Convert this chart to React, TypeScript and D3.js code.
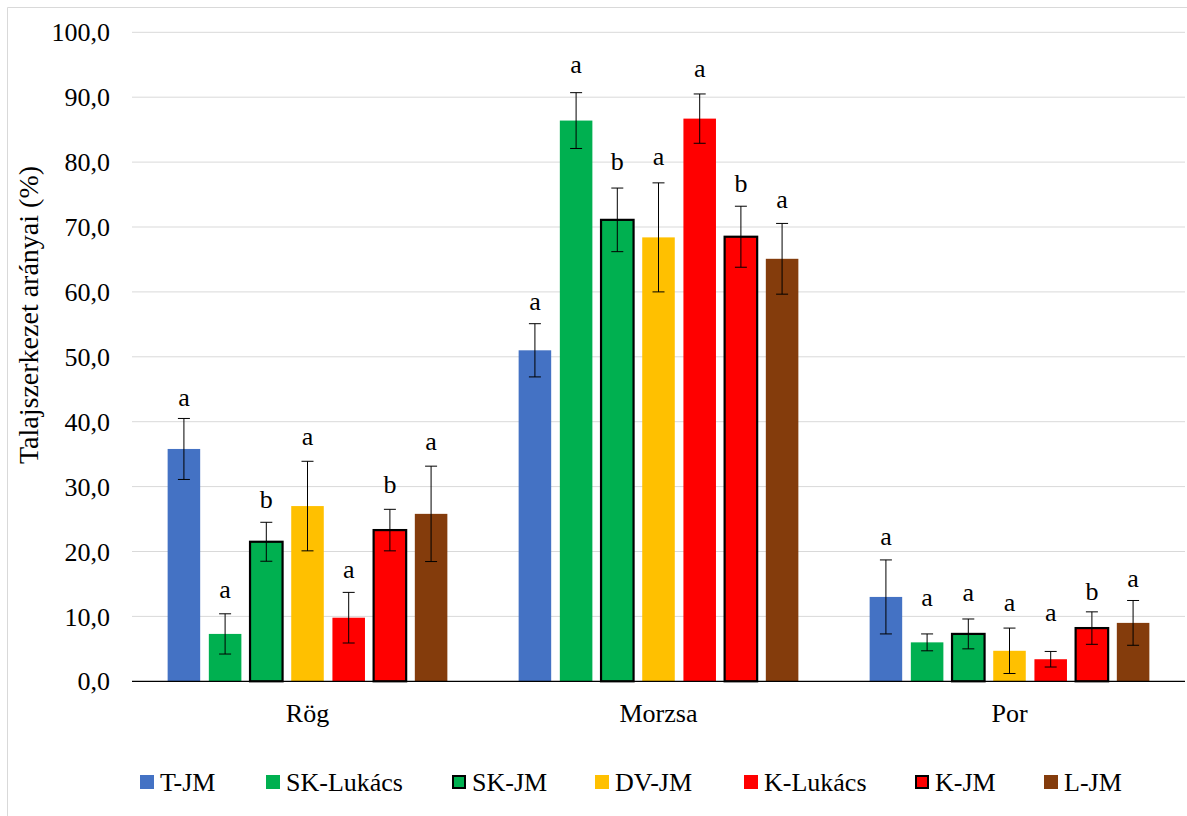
import React from "react";
import * as d3 from "d3";

const categories = ["Rög", "Morzsa", "Por"];
const seriesNames = ["T-JM", "SK-Lukács", "SK-JM", "DV-JM", "K-Lukács", "K-JM", "L-JM"];
const seriesColors = ["#4472C4", "#00B050", "#00B050", "#FFC000", "#FF0000", "#FF0000", "#843C0C"];
const seriesOutlined = [false, false, true, false, false, true, false];

// values per series, in category order (Rög, Morzsa, Por)
const tjmValues = [35.8, 51.0, 13.0];
const skLukacsValues = [7.3, 86.4, 6.0];
const skJmValues = [21.5, 71.1, 7.3];
const dvJmValues = [27.0, 68.4, 4.7];
const kLukacsValues = [9.8, 86.7, 3.4];
const kJmValues = [23.3, 68.5, 8.2];
const lJmValues = [25.8, 65.1, 9.0];

const tjmErrors = [4.7, 4.1, 5.7];
const skLukacsErrors = [3.1, 4.3, 1.3];
const skJmErrors = [3.0, 4.9, 2.3];
const dvJmErrors = [6.9, 8.4, 3.5];
const kLukacsErrors = [3.9, 3.8, 1.2];
const kJmErrors = [3.2, 4.7, 2.5];
const lJmErrors = [7.35, 5.45, 3.45];

const tjmLetters = ["a", "a", "a"];
const skLukacsLetters = ["a", "a", "a"];
const skJmLetters = ["b", "b", "a"];
const dvJmLetters = ["a", "a", "a"];
const kLukacsLetters = ["a", "a", "a"];
const kJmLetters = ["b", "b", "b"];
const lJmLetters = ["a", "a", "a"];

// height (in %) of each letter's baseline
const tjmLetterAt = [42.4, 57.2, 21.0];
const skLukacsLetterAt = [12.9, 93.7, 11.6];
const skJmLetterAt = [26.7, 78.8, 12.4];
const dvJmLetterAt = [36.4, 79.6, 10.8];
const kLukacsLetterAt = [15.9, 93.1, 9.3];
const kJmLetterAt = [29.0, 75.4, 12.5];
const lJmLetterAt = [35.6, 72.9, 14.6];

const yTicks = [0, 10, 20, 30, 40, 50, 60, 70, 80, 90, 100];
const yTitle = "Talajszerkezet arányai (%)";

const allValues = [tjmValues, skLukacsValues, skJmValues, dvJmValues, kLukacsValues, kJmValues, lJmValues];
const allErrors = [tjmErrors, skLukacsErrors, skJmErrors, dvJmErrors, kLukacsErrors, kJmErrors, lJmErrors];
const allLetters = [tjmLetters, skLukacsLetters, skJmLetters, dvJmLetters, kLukacsLetters, kJmLetters, lJmLetters];
const allLetterAt = [tjmLetterAt, skLukacsLetterAt, skJmLetterAt, dvJmLetterAt, kLukacsLetterAt, kJmLetterAt, lJmLetterAt];

// layout
const W = 1187;
const H = 816;
const FONT = "Liberation Serif, Tinos, Times New Roman, DejaVu Serif, serif";
const FS = 26;
const legendSlotX = [140, 266, 452, 595, 744, 915, 1044];

export default function App() {
  const x = d3.scaleBand<string>().domain(categories).range([132, 1185]).paddingInner(0).paddingOuter(0);
  const xs = d3
    .scaleBand<string>()
    .domain(seriesNames)
    .range([0, x.bandwidth()])
    .paddingInner(0.21)
    .paddingOuter(0.865);
  const y = d3.scaleLinear().domain([0, 100]).range([681.3, 32.3]);
  const fmt = (v: number) => d3.format(".1f")(v).replace(".", ",");
  const bw = xs.bandwidth();
  const capW = 12;
  const ts: React.CSSProperties = { fontFamily: FONT, fontSize: FS };

  const sq = 14;
  const legendY = 782;

  return (
    <svg
      width={W}
      height={H}
      style={{ position: "absolute", left: 0, top: 0, background: "#fff", fontFamily: FONT }}
    >
      <rect x={0} y={0} width={W} height={H} fill="#fff" />
      <line x1={7.5} y1={7.5} x2={W} y2={7.5} stroke="#d9d9d9" strokeWidth={1} />
      <line x1={7.5} y1={7.5} x2={7.5} y2={H} stroke="#d9d9d9" strokeWidth={1} />

      {yTicks.map((t) => (
        <g key={t}>
          {t > 0 && (
            <line x1={132} x2={1185} y1={y(t)} y2={y(t)} stroke="#d9d9d9" strokeWidth={1} />
          )}
          <text x={110} y={y(t)} dy="0.35em" textAnchor="end" style={ts} fill="#000">
            {fmt(t)}
          </text>
        </g>
      ))}

      <text
        transform={`translate(38,315) rotate(-90)`}
        textAnchor="middle"
        style={{ fontFamily: FONT, fontSize: 28 }}
        fill="#000"
      >
        {yTitle}
      </text>

      {categories.map((cat, ci) => (
        <g key={cat}>
          {seriesNames.map((s, si) => {
            const v = allValues[si][ci];
            const e = allErrors[si][ci];
            const bx = (x(cat) as number) + (xs(s) as number);
            const cx = bx + bw / 2;
            const outlined = seriesOutlined[si];
            return (
              <g key={s}>
                <rect
                  x={bx}
                  y={y(v)}
                  width={bw}
                  height={y(0) - y(v)}
                  fill={seriesColors[si]}
                  stroke={outlined ? "#000" : "none"}
                  strokeWidth={outlined ? 2.2 : 0}
                />
                <line x1={cx} x2={cx} y1={y(v + e)} y2={y(v - e)} stroke="#000" strokeWidth={1} />
                <line x1={cx - capW / 2} x2={cx + capW / 2} y1={y(v + e)} y2={y(v + e)} stroke="#000" strokeWidth={1} />
                <line x1={cx - capW / 2} x2={cx + capW / 2} y1={y(v - e)} y2={y(v - e)} stroke="#000" strokeWidth={1} />
                <text x={cx} y={y(allLetterAt[si][ci])} textAnchor="middle" style={ts} fill="#000">
                  {allLetters[si][ci]}
                </text>
              </g>
            );
          })}
          <text
            x={(x(cat) as number) + x.bandwidth() / 2}
            y={722}
            textAnchor="middle"
            style={ts}
            fill="#000"
          >
            {cat}
          </text>
        </g>
      ))}

      <line x1={132} x2={1185} y1={y(0)} y2={y(0)} stroke="#000" strokeWidth={1.3} />

      {seriesNames.map((name, i) => {
        const lx = legendSlotX[i];
        const o = seriesOutlined[i];
        return (
          <g key={name}>
            <rect
              x={lx + (o ? 1 : 0)}
              y={legendY - sq / 2 + (o ? 1 : 0)}
              width={sq - (o ? 2 : 0)}
              height={sq - (o ? 2 : 0)}
              fill={seriesColors[i]}
              stroke={o ? "#000" : "none"}
              strokeWidth={o ? 2 : 0}
            />
            <text x={lx + sq + 6} y={legendY} dy="0.35em" style={ts} fill="#000">
              {name}
            </text>
          </g>
        );
      })}
    </svg>
  );
}
